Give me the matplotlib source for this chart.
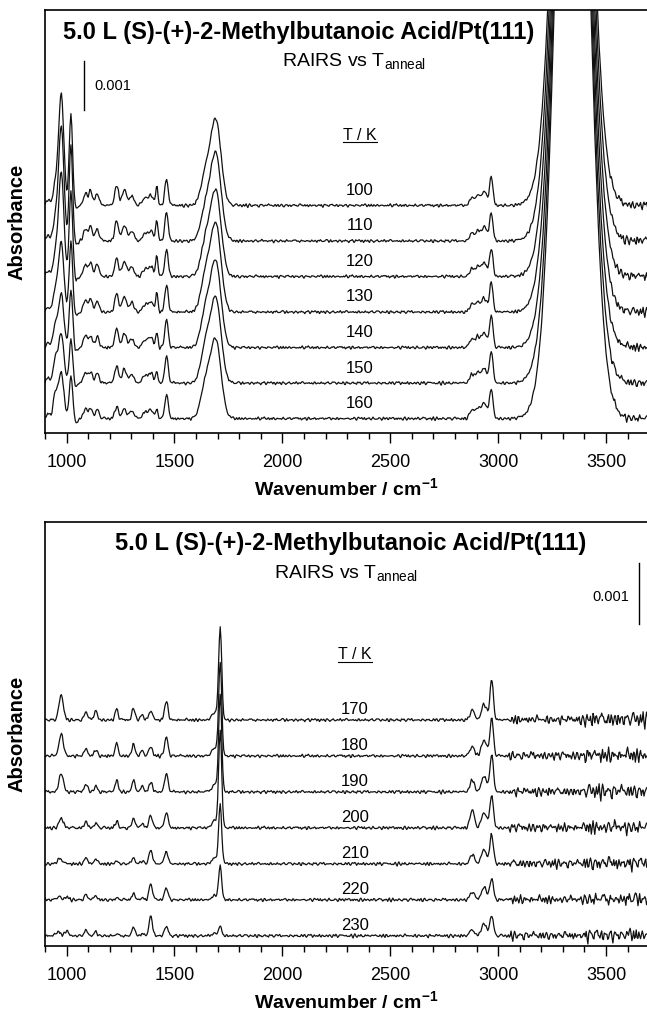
import numpy as np
import matplotlib.pyplot as plt
from matplotlib.lines import Line2D
from matplotlib.ticker import MultipleLocator

plt.rcParams['font.family'] = ['Liberation Sans', 'DejaVu Sans']
plt.rcParams['mathtext.fontset'] = 'custom'
plt.rcParams['mathtext.rm'] = 'Liberation Sans'
plt.rcParams['mathtext.it'] = 'Liberation Sans:italic'
plt.rcParams['mathtext.bf'] = 'Liberation Sans:bold'

# --- band tables: centre (cm-1), sigma (cm-1), height (1e-4 absorbance) ---

# 100-160 K anneal series (upper panel)
top_temps = [100, 110, 120, 130, 140, 150, 160]
top_centers = [915, 948, 975, 1020, 1045, 1088, 1112, 1142, 1232, 1268, 1302,
               1365, 1392, 1418, 1463, 1645, 1692, 2878, 2905, 2935, 2968, 3345]
top_widths = [8, 10, 12, 8, 8, 10, 8, 9, 9, 10, 10,
              12, 10, 5, 8, 22, 24, 10, 10, 12, 8, 68]
top_heights = [
    [1.2, 4.1, 22.8, 18.4, -0.8, 2.4, 2.9, 2.4, 4.1, 3.3, 2.0, 1.6, 2.0, 4.1, 5.3, 6.1, 17.1, 1.6, 2.0, 2.9, 5.7, 169],
    [1.2, 4.5, 23.5, 19.4, -0.8, 2.4, 2.9, 2.4, 4.1, 3.3, 2.0, 1.6, 2.0, 4.5, 5.7, 6.5, 17.5, 1.6, 2.0, 2.9, 5.7, 171],
    [1.2, 4.5, 21.4, 17.3, -0.8, 2.4, 2.7, 2.4, 3.7, 3.1, 2.0, 1.6, 2.0, 4.5, 5.5, 6.9, 17.1, 1.6, 2.0, 2.9, 5.7, 173],
    [1.0, 4.5, 14.3, 14.3, -0.8, 2.4, 2.4, 2.2, 3.7, 3.1, 2.0, 1.6, 2.0, 4.1, 5.5, 7.3, 17.5, 1.6, 2.0, 2.9, 6.1, 175],
    [1.0, 4.5, 11.0, 11.8, -0.8, 2.4, 2.2, 2.2, 3.7, 2.9, 1.8, 1.6, 2.0, 3.1, 5.7, 7.3, 17.1, 1.8, 2.2, 3.1, 6.5, 177],
    [1.0, 4.9, 10.2, 8.8, -0.8, 2.2, 2.2, 2.0, 3.5, 2.9, 1.8, 1.6, 2.0, 2.4, 5.5, 7.3, 16.9, 1.8, 2.2, 3.1, 6.5, 180],
    [1.0, 5.1, 9.4, 8.6, -0.8, 2.0, 2.0, 1.8, 2.4, 2.0, 1.6, 1.4, 1.8, 2.0, 4.9, 6.9, 15.7, 1.8, 2.2, 3.3, 6.1, 184],
]

# 170-230 K anneal series (lower panel)
bot_temps = [170, 180, 190, 200, 210, 220, 230]
bot_centers = [962, 975, 1000, 1090, 1135, 1232, 1310, 1350, 1390, 1462,
               1690, 1712, 2880, 2935, 2970]
bot_widths = [9, 10, 9, 8, 7, 7, 7, 8, 8, 8, 15, 7, 10, 12, 8]
bot_heights = [
    [0.0, 4.1, 0.0, 1.3, 1.6, 1.8, 2.0, 0.8, 1.5, 3.1, 1.3, 14.8, 1.6, 2.6, 6.6],
    [0.0, 3.6, 0.0, 1.1, 1.1, 2.0, 2.0, 0.8, 1.5, 3.1, 1.3, 15.1, 1.6, 2.6, 6.2],
    [0.0, 3.1, 0.0, 1.3, 1.0, 2.0, 2.0, 0.8, 1.6, 3.0, 1.3, 15.6, 2.0, 2.6, 6.1],
    [0.0, 1.6, 0.0, 1.0, 0.8, 1.1, 1.6, 0.7, 2.1, 2.5, 1.3, 15.6, 3.0, 2.5, 5.4],
    [0.5, 0.5, 0.0, 1.0, 0.8, 0.5, 1.0, 0.5, 2.3, 2.1, 1.0, 9.3, 1.6, 2.3, 4.9],
    [0.5, 0.0, 0.5, 0.8, 0.7, 0.3, 1.1, 0.3, 2.6, 2.0, 0.7, 5.2, 1.3, 2.1, 3.6],
    [0.7, 0.0, 0.8, 0.8, 0.7, 0.2, 1.5, 0.3, 3.1, 1.6, 0.3, 1.5, 1.0, 2.0, 3.4],
]

# baseline ripple (detector noise), relative units
ripple_a = [0.6, -0.3, 0.9, -0.8, 0.1, 0.5, -0.6, -0.1, 0.8, -0.9, 0.3, 0.7, -0.4,
            -0.7, 0.2, 0.9, -0.5, 0.4, -1.0, 0.6, 0.0, -0.3, 0.8, -0.6, 0.5, -0.2,
            -0.9, 0.7, 0.3, -0.5, 1.0, -0.4, 0.2, -0.8, 0.6, -0.1, 0.4]
ripple_b = [-0.4, 0.7, 0.2, -0.9, 0.5, -0.2, 0.8, -0.6, 0.1, 0.4, -0.7, 0.9, -0.3,
            0.0, 0.6, -0.8, 0.3, -0.5, 0.7, -0.1, 0.5, -0.9, 0.2, 0.8, -0.4, 0.1,
            -0.6, 0.9, -0.2]
# noise level per spectral region (start of region in cm-1, amplitude)
top_noise_from = [900, 3520]
top_noise_amp = [0.6, 1.6]
bot_noise_from = [900, 3050, 3400]
bot_noise_amp = [0.5, 1.3, 2.2]

SCALE = 1e-4
wn = np.arange(900.0, 3704.0, 4.0)


def bands(centers, widths, heights):
    y = np.zeros_like(wn)
    for c, w, h in zip(centers, widths, heights):
        y += h * np.exp(-0.5 * ((wn - c) / w) ** 2)
    return y


def ripple(k, starts, amps):
    idx = np.arange(wn.size)
    r = (np.take(ripple_a, (idx + 7 * k) % len(ripple_a)) +
         np.take(ripple_b, (idx + 11 * k) % len(ripple_b)))
    r = np.convolve(r, [0.25, 0.5, 0.25], mode='same')
    amp = np.asarray(amps)[np.searchsorted(starts, wn, side='right') - 1]
    return r * amp


def style_axes(ax):
    ax.set_xlim(900, 3690)
    ax.xaxis.set_major_locator(MultipleLocator(500))
    ax.xaxis.set_minor_locator(MultipleLocator(100))
    ax.set_yticks([])
    ax.spines['right'].set_visible(False)
    for s in ('left', 'top', 'bottom'):
        ax.spines[s].set_linewidth(1.2)
    ax.tick_params(axis='x', which='major', length=7, width=1.0, pad=8, labelsize=13)
    ax.tick_params(axis='x', which='minor', length=4, width=1.0)
    ax.set_xlabel(r'Wavenumber / cm$^{\mathbf{-1}}$', fontsize=14, fontweight='bold')
    ax.xaxis.set_label_coords(0.5, -0.104)
    ax.set_ylabel('Absorbance', fontsize=14.5, fontweight='bold')
    ax.yaxis.set_label_coords(-0.030, 0.5)


fig = plt.figure(figsize=(6.47, 10.15), dpi=100)
ax1 = fig.add_axes([0.0696, 0.5734, 0.9304, 0.4167])
ax2 = fig.add_axes([0.0696, 0.0680, 0.9304, 0.4177])

title = '5.0 L (S)-(+)-2-Methylbutanoic Acid/Pt(111)'
subtitle = r'RAIRS vs T$_{\mathrm{anneal}}$'
underlined = []

# upper panel
step1 = 7.25
n = len(top_temps)
for k, (temp, h) in enumerate(zip(top_temps, top_heights)):
    off = (n - 1 - k) * step1
    y = off + bands(top_centers, top_widths, h) + ripple(k, top_noise_from, top_noise_amp)
    ax1.plot(wn, y * SCALE, color='#111111', lw=0.9)
    ax1.text(2360, (off + 3.1) * SCALE, str(temp), fontsize=12, ha='center', va='center')
ax1.set_ylim(-2.9 * SCALE, 83.4 * SCALE)
ax1.plot([1079, 1079], [63.0 * SCALE, 73.0 * SCALE], color='k', lw=1.0)
ax1.text(1130, 68.0 * SCALE, '0.001', fontsize=10.5, ha='left', va='center')
underlined.append(ax1.text(2361, 57.9 * SCALE, 'T / K', fontsize=11.5, ha='center', va='center'))
ax1.text(0.422, 0.948, title, transform=ax1.transAxes, fontsize=17,
         fontweight='bold', ha='center', va='center')
ax1.text(0.513, 0.880, subtitle, transform=ax1.transAxes, fontsize=14,
         ha='center', va='center')
style_axes(ax1)

# lower panel
step2 = 5.9
n = len(bot_temps)
for k, (temp, h) in enumerate(zip(bot_temps, bot_heights)):
    off = (n - 1 - k) * step2
    y = off + bands(bot_centers, bot_widths, h) + ripple(k + 3, bot_noise_from, bot_noise_amp)
    ax2.plot(wn, y * SCALE, color='#111111', lw=0.9)
    ax2.text(2335, (off + 1.8) * SCALE, str(temp), fontsize=12, ha='center', va='center')
ax2.set_ylim(-1.64 * SCALE, 67.9 * SCALE)
ax2.plot([3653, 3653], [51.2 * SCALE, 61.2 * SCALE], color='k', lw=1.0)
ax2.text(3606, 55.6 * SCALE, '0.001', fontsize=10.5, ha='right', va='center')
underlined.append(ax2.text(2338, 46.1 * SCALE, 'T / K', fontsize=11.5, ha='center', va='center'))
ax2.text(0.5075, 0.950, title, transform=ax2.transAxes, fontsize=17,
         fontweight='bold', ha='center', va='center')
ax2.text(0.500, 0.880, subtitle, transform=ax2.transAxes, fontsize=14,
         ha='center', va='center')
style_axes(ax2)

# underline the "T / K" headers
fig.canvas.draw()
renderer = fig.canvas.get_renderer()
for t in underlined:
    bb = t.get_window_extent(renderer).transformed(fig.transFigure.inverted())
    fig.add_artist(Line2D([bb.x0, bb.x1], [bb.y0 + 0.0008] * 2,
                          transform=fig.transFigure, color='k', lw=0.8))

fig.savefig('out.png', dpi=100)
